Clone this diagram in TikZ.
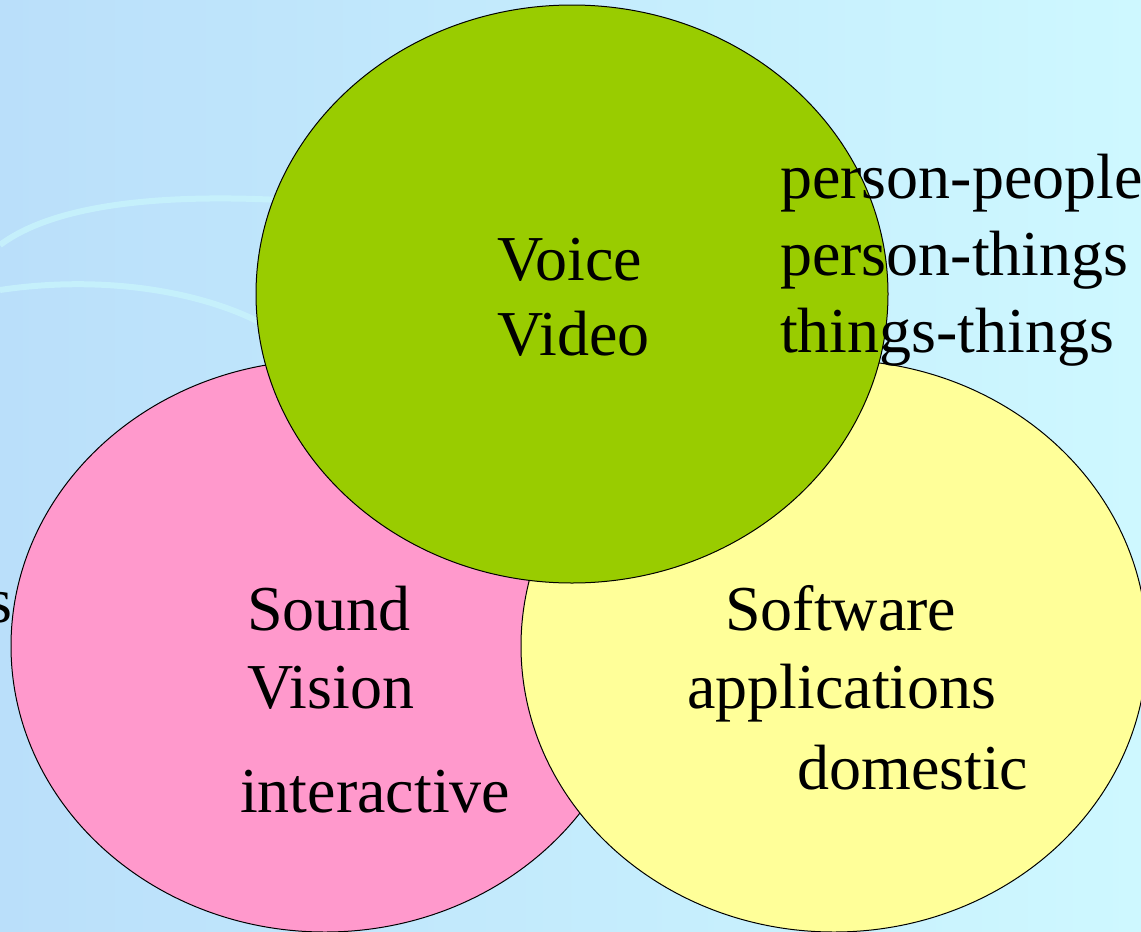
\documentclass[tikz,border=0pt]{standalone}
\usepackage{fontspec}
\setmainfont{Liberation Serif}
\usepackage{tikz}
\usetikzlibrary{shapes.geometric, positioning, calc}
\definecolor{skycolor}{RGB}{186, 223, 250}
\definecolor{cyancolor}{RGB}{206, 248, 255}
\definecolor{streakcolor}{RGB}{200, 244, 252}
\definecolor{voicecolor}{RGB}{153, 204, 0}
\definecolor{soundcolor}{RGB}{255, 153, 204}
\definecolor{softcolor}{RGB}{255, 255, 153}
\tikzset{
  bubble/.style={draw=black, line width=1pt, ellipse, inner sep=0pt},
  word/.style={anchor=base west, inner sep=0pt, font=\fontsize{64}{76}\selectfont}
}

\begin{document}
\begin{tikzpicture}[x=1pt, y=-1pt]
        % Frame and background
        \useasboundingbox (0, 0) rectangle (1141, 932);
        \clip (0, 0) rectangle (1141, 932);
        \shade[left color=skycolor, right color=cyancolor] (0, 0) rectangle (1141, 932);
        \draw[streakcolor, line width=6pt, opacity=0.8] (0, 245) .. controls (60, 200) and (180, 195) .. (280, 200);
        \draw[streakcolor, line width=6pt, opacity=0.8] (0, 290) .. controls (100, 275) and (200, 290) .. (265, 325);
        
        % Three overlapping bubbles
        \node[bubble, fill=soundcolor, minimum width=628pt, minimum height=572pt] (sense) at (325, 646) {};
        \node[bubble, fill=softcolor, minimum width=626pt, minimum height=572pt] (soft) at (834, 646) {};
        \node[bubble, fill=voicecolor, minimum width=632pt, minimum height=578pt] (talk) at (572, 294) {};
        
        % Voice bubble text
        \node[word] (voice) at (497, 280) {Voice};
        \node[word] (video) at (497, 355) {Video};
        
        % Relations
        \node[word] (pp) at (780, 198) {person-people};
        \node[word] (pt) at (780, 275) {person-things};
        \node[word] (tt) at (780, 352) {things-things};
        
        % Sound bubble text
        \node[word] (cut) at (-13, 622) {s};
        \node[word] (sound) at (247, 630) {Sound};
        \node[word] (vision) at (247, 708) {Vision};
        \node[word] (inter) at (240, 812) {interactive};
        
        % Software bubble text
        \node[word] (software) at (725, 630) {Software};
        \node[word] (apps) at (687, 708) {applications};
        \node[word] (home) at (797, 789) {domestic};
        
    \end{tikzpicture}
\end{document}
